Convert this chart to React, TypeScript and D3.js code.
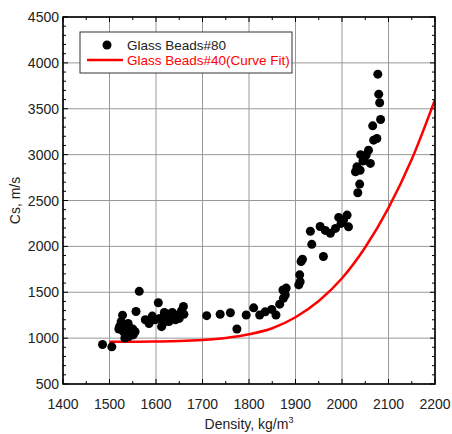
import { useMemo } from "react";
import * as d3 from "d3";

// Glass Beads#80 measurements: [density kg/m3, Cs m/s]
const beads80: [number, number][] = [
  [1485, 930], [1505, 905],
  [1520, 1100], [1525, 1180], [1528, 1250], [1530, 1070], [1533, 1000],
  [1537, 1140], [1541, 1015], [1544, 1110], [1548, 1060], [1551, 1035],
  [1555, 1070], [1557, 1290], [1545, 1080], [1535, 1040], [1522, 1130],
  [1540, 1160], [1550, 1100], [1564, 1510],
  [1577, 1200], [1588, 1205], [1598, 1200], [1605, 1385], [1608, 1215],
  [1612, 1125], [1620, 1245], [1625, 1220], [1630, 1260], [1635, 1280],
  [1640, 1235], [1645, 1250], [1650, 1215], [1655, 1300], [1659, 1345],
  [1615, 1160], [1628, 1180], [1642, 1200], [1592, 1240], [1618, 1280],
  [1660, 1260], [1585, 1160],
  [1709, 1245], [1738, 1260], [1760, 1277], [1774, 1100], [1794, 1252],
  [1810, 1330], [1823, 1252], [1835, 1288], [1849, 1313], [1858, 1252],
  [1866, 1370], [1874, 1434], [1873, 1524], [1880, 1545], [1878, 1470],
  [1907, 1580], [1910, 1615], [1909, 1690], [1912, 1835], [1915, 1860],
  [1932, 2165], [1935, 2022], [1960, 1890], [1953, 2217], [1964, 2174],
  [1975, 2142], [1986, 2196], [1993, 2316], [2003, 2286], [2011, 2341],
  [2014, 2213], [1998, 2250],
  [2034, 2584], [2038, 2679], [2029, 2813], [2032, 2867], [2039, 2830],
  [2047, 2959], [2052, 2995], [2057, 3049], [2061, 2904], [2068, 3158],
  [2075, 3176], [2066, 3314], [2083, 3383], [2081, 3565], [2079, 3659],
  [2077, 3877], [2045, 2930], [2040, 3000],
];

// Glass Beads#40 curve fit
const fitDensity = [1500, 1550, 1600, 1650, 1700, 1750, 1800, 1850, 1900, 1950, 2000, 2050, 2100, 2150, 2200];
const fitCs = [960, 960, 963, 968, 980, 1002, 1042, 1108, 1228, 1405, 1652, 1990, 2420, 2950, 3600];

const xTicks = [1400, 1500, 1600, 1700, 1800, 1900, 2000, 2100, 2200];
const yTicks = [500, 1000, 1500, 2000, 2500, 3000, 3500, 4000, 4500];

const W = 452;
const H = 434;
const margin = { top: 17, right: 17, bottom: 50, left: 63 };
const FONT = "'Liberation Sans', Arial, sans-serif";

export default function App() {
  const innerW = W - margin.left - margin.right;
  const innerH = H - margin.top - margin.bottom;

  const x = d3.scaleLinear().domain([1400, 2200]).range([0, innerW]);
  const y = d3.scaleLinear().domain([500, 4500]).range([innerH, 0]);

  const fitPath = useMemo(() => {
    const line = d3
      .line<number>()
      .x((d) => x(d))
      .y((_, i) => y(fitCs[i]))
      .curve(d3.curveMonotoneX);
    return line(fitDensity) || "";
  }, []);

  // minor ticks: every 50 on x, every 100 on y
  const xMinor = d3.range(1400, 2201, 50);
  const yMinor = d3.range(500, 4501, 100);

  return (
    <svg
      width={W}
      height={H}
      style={{ position: "absolute", left: 0, top: 0, background: "#fff" }}
      fontFamily={FONT}
    >
      <g transform={`translate(${margin.left},${margin.top})`}>
        {/* grid */}
        {xTicks.map((t) => (
          <line key={"gx" + t} x1={x(t)} x2={x(t)} y1={0} y2={innerH} stroke="#999" strokeWidth={1} />
        ))}
        {yTicks.map((t) => (
          <line key={"gy" + t} x1={0} x2={innerW} y1={y(t)} y2={y(t)} stroke="#999" strokeWidth={1} />
        ))}

        {/* inward ticks on all sides */}
        {xMinor.map((t) => {
          const len = t % 100 === 0 ? 5 : 3;
          return (
            <g key={"tx" + t}>
              <line x1={x(t)} x2={x(t)} y1={innerH} y2={innerH - len} stroke="#000" />
              <line x1={x(t)} x2={x(t)} y1={0} y2={len} stroke="#000" />
            </g>
          );
        })}
        {yMinor.map((t) => {
          const len = t % 500 === 0 ? 5 : 3;
          return (
            <g key={"ty" + t}>
              <line x1={0} x2={len} y1={y(t)} y2={y(t)} stroke="#000" />
              <line x1={innerW} x2={innerW - len} y1={y(t)} y2={y(t)} stroke="#000" />
            </g>
          );
        })}

        {/* curve fit */}
        <clipPath id="plotclip">
          <rect x={0} y={0} width={innerW} height={innerH} />
        </clipPath>
        <path d={fitPath} fill="none" stroke="#ff0000" strokeWidth={2.5} clipPath="url(#plotclip)" />

        {/* scatter */}
        {beads80.map((d, i) => (
          <circle key={i} cx={x(d[0])} cy={y(d[1])} r={4.5} fill="#000" />
        ))}

        {/* frame */}
        <rect x={0} y={0} width={innerW} height={innerH} fill="none" stroke="#000" strokeWidth={1.6} />

        {/* tick labels */}
        {xTicks.map((t) => (
          <text key={"lx" + t} x={x(t)} y={innerH + 25} textAnchor="middle" fontSize={14} fill="#222">
            {t}
          </text>
        ))}
        {yTicks.map((t) => (
          <text key={"ly" + t} x={-4} y={y(t) + 5} textAnchor="end" fontSize={14} fill="#222">
            {t}
          </text>
        ))}

        {/* axis titles */}
        <text x={innerW / 2} y={innerH + 45} textAnchor="middle" fontSize={14} fill="#222">
          Density, kg/m
          <tspan dy={-6} fontSize={9}>3</tspan>
        </text>
        <text
          transform={`translate(${-43},${innerH / 2}) rotate(-90)`}
          textAnchor="middle"
          fontSize={14}
          fill="#222"
        >
          Cs, m/s
        </text>
      </g>

      {/* legend */}
      <g>
        <rect x={80} y={32} width={212} height={41} fill="#fff" stroke="#333" strokeWidth={1} />
        <circle cx={107} cy={45} r={4.5} fill="#000" />
        <text x={127} y={50} fontSize={13.5} fill="#222">
          Glass Beads#80
        </text>
        <line x1={87} x2={123} y1={60} y2={60} stroke="#ff0000" strokeWidth={2.5} />
        <text x={127} y={65} fontSize={13.5} fill="#ff0000">
          Glass Beads#40(Curve Fit)
        </text>
      </g>
    </svg>
  );
}
